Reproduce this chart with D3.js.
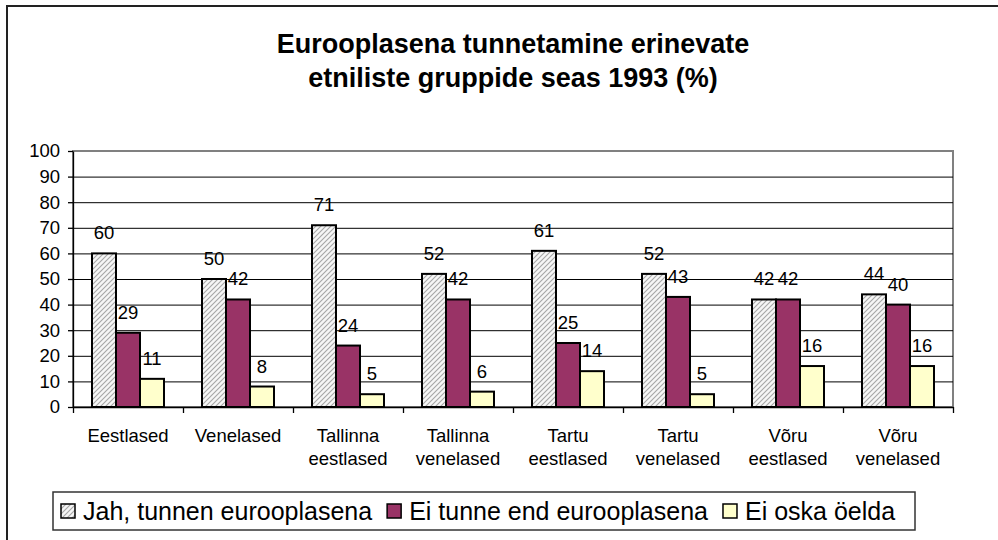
<!DOCTYPE html>
<html>
<head>
<meta charset="utf-8">
<script src="https://cdn.jsdelivr.net/npm/d3@7"></script>
<style>
  body { margin: 0; background: #fff; }
  svg { display: block; font-family: "Liberation Sans", Arial, sans-serif; }
</style>
</head>
<body>
<svg id="chart" width="998" height="540"></svg>
<script>
// data
const categories = ['Eestlased', 'Venelased', 'Tallinna eestlased', 'Tallinna venelased',
  'Tartu eestlased', 'Tartu venelased', 'Võru eestlased', 'Võru venelased'];
const seriesNames = ['Jah, tunnen eurooplasena', 'Ei tunne end eurooplasena', 'Ei oska öelda'];
const jah = [60, 50, 71, 52, 61, 52, 42, 44];
const eiTunne = [29, 42, 24, 42, 25, 43, 42, 40];
const eiOska = [11, 8, 5, 6, 14, 5, 16, 16];
const yTicks = [0, 10, 20, 30, 40, 50, 60, 70, 80, 90, 100];
const titleLines = ['Eurooplasena tunnetamine erinevate', 'etniliste gruppide seas 1993 (%)'];

const series = [jah, eiTunne, eiOska];
const fills = ['url(#hatch)', '#993366', '#ffffcc'];

const svg = d3.select('#chart');
const plot = { left: 73, right: 953, top: 151, bottom: 407 };

// hatch pattern for the first series
const defs = svg.append('defs');
const pat = defs.append('pattern')
  .attr('id', 'hatch')
  .attr('patternUnits', 'userSpaceOnUse')
  .attr('width', 5).attr('height', 5);
pat.append('rect').attr('width', 5).attr('height', 5).attr('fill', '#f6f6f6');
pat.append('path')
  .attr('d', 'M-1,1 l2,-2 M0,5 l5,-5 M4,6 l2,-2')
  .attr('stroke', '#a6a6a6').attr('stroke-width', 1.1);

// outer frame, runs past right and bottom edges
svg.append('rect')
  .attr('x', 7).attr('y', 6).attr('width', 1010).attr('height', 560)
  .attr('fill', 'none').attr('stroke', '#222').attr('stroke-width', 2);

// title
svg.append('text')
  .attr('x', (plot.left + plot.right) / 2)
  .attr('text-anchor', 'middle')
  .attr('font-size', 27).attr('font-weight', 'bold')
  .selectAll('tspan').data(titleLines).join('tspan')
  .attr('x', (plot.left + plot.right) / 2)
  .attr('y', (d, i) => 53 + i * 34)
  .text(d => d);

// scales
const x0 = d3.scaleBand().domain(categories)
  .range([plot.left, plot.right])
  .paddingInner(38 / 110).paddingOuter(19 / 110);
const x1 = d3.scaleBand().domain([0, 1, 2]).range([0, x0.bandwidth()]);
const y = d3.scaleLinear().domain([0, 100]).range([plot.bottom, plot.top]);

// plot area border
svg.append('rect')
  .attr('x', plot.left).attr('y', plot.top)
  .attr('width', plot.right - plot.left).attr('height', plot.bottom - plot.top)
  .attr('fill', 'none').attr('stroke', '#808080').attr('stroke-width', 2);

// gridlines
svg.append('g')
  .attr('transform', `translate(${plot.left},0)`)
  .call(d3.axisLeft(y).tickValues(yTicks.slice(1, -1))
    .tickSize(-(plot.right - plot.left)).tickFormat(''))
  .call(g => g.select('.domain').remove())
  .call(g => g.selectAll('line').attr('stroke', '#000'));

// bars
const groups = svg.append('g').selectAll('g')
  .data(categories).join('g')
  .attr('transform', d => `translate(${x0(d)},0)`);

groups.selectAll('rect')
  .data((d, ci) => series.map((s, si) => ({ si, v: s[ci] })))
  .join('rect')
  .attr('x', d => x1(d.si))
  .attr('width', x1.bandwidth())
  .attr('y', d => y(d.v))
  .attr('height', d => y(0) - y(d.v))
  .attr('fill', d => fills[d.si])
  .attr('stroke', '#000').attr('stroke-width', 2);

groups.selectAll('text')
  .data((d, ci) => series.map((s, si) => ({ si, v: s[ci] })))
  .join('text')
  .attr('x', d => x1(d.si) + x1.bandwidth() / 2)
  .attr('y', d => y(d.v) - 14)
  .attr('text-anchor', 'middle')
  .attr('font-size', 18.5)
  .attr('fill', '#000')
  .text(d => d.v);

// y axis
svg.append('g')
  .attr('transform', `translate(${plot.left},0)`)
  .call(d3.axisLeft(y).tickValues(yTicks).tickSize(5).tickPadding(8).tickSizeOuter(0))
  .call(g => g.selectAll('text').attr('font-size', 18.5).attr('fill', '#000')
    .attr('font-family', '"Liberation Sans", Arial, sans-serif'))
  .call(g => g.selectAll('line, path').attr('stroke', '#000').attr('stroke-width', 1.3));

// x axis: boundary ticks
const xb = d3.scaleLinear().domain([0, categories.length]).range([plot.left, plot.right]);
svg.append('g')
  .attr('transform', `translate(0,${plot.bottom})`)
  .call(d3.axisBottom(xb).ticks(categories.length).tickSize(6).tickSizeOuter(0).tickFormat(''))
  .call(g => g.selectAll('line, path').attr('stroke', '#000').attr('stroke-width', 1.3));

// x axis: category labels, split over two lines
svg.append('g')
  .attr('transform', `translate(0,${plot.bottom})`)
  .call(d3.axisBottom(x0).tickSize(0))
  .call(g => g.select('.domain').remove())
  .call(g => g.selectAll('.tick text')
    .attr('font-size', 18.5).attr('fill', '#000')
    .attr('font-family', '"Liberation Sans", Arial, sans-serif')
    .attr('dy', null)
    .each(function (d) {
      const t = d3.select(this).text(null).attr('y', null);
      d.split(' ').forEach((w, i) => {
        t.append('tspan').attr('x', 0).attr('y', 34.5 + i * 23.5).text(w);
      });
    }));

// legend
const legend = svg.append('g');
legend.append('rect')
  .attr('x', 53).attr('y', 492).attr('width', 862).attr('height', 38)
  .attr('fill', '#fff').attr('stroke', '#333').attr('stroke-width', 1.5);

let lx = 61;
seriesNames.forEach((name, i) => {
  legend.append('rect')
    .attr('x', lx).attr('y', 504).attr('width', 14).attr('height', 14)
    .attr('fill', fills[i]).attr('stroke', '#000').attr('stroke-width', 1.5);
  const t = legend.append('text')
    .attr('x', lx + 22).attr('y', 520)
    .attr('font-size', 25).attr('fill', '#000')
    .text(name);
  lx += 22 + t.node().getComputedTextLength() + 15;
});
</script>
</body>
</html>
